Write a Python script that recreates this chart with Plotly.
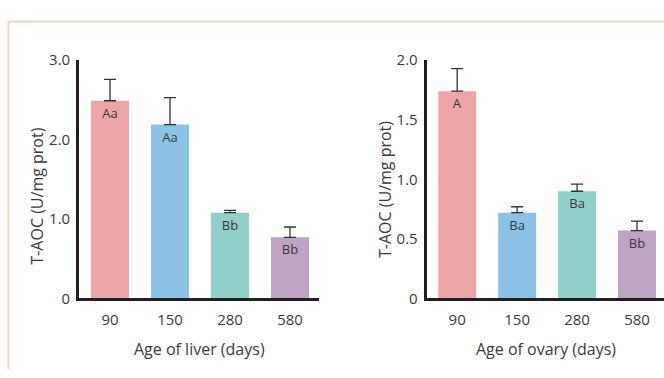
import plotly.graph_objects as go

categories = ["90", "150", "280", "580"]
liver_values = [2.49, 2.19, 1.08, 0.77]
liver_err = [0.27, 0.34, 0.03, 0.13]
liver_labels = ["Aa", "Aa", "Bb", "Bb"]
ovary_values = [1.74, 0.72, 0.90, 0.57]
ovary_err = [0.19, 0.05, 0.06, 0.08]
ovary_labels = ["A", "Ba", "Ba", "Bb"]
bar_colors = ["#EDA5A8", "#8CC2E6", "#91CFCA", "#BEA3C3"]

FONT = "Open Sans, sans-serif"
TXT = "#3a3a3a"
W, H = 664, 378

fig = go.Figure()

def add_panel(values, err, labels, xa, ya):
    fig.add_trace(go.Bar(
        x=categories, y=values, width=0.633,
        marker=dict(color=bar_colors, line=dict(width=0)),
        error_y=dict(type="data", array=err, arrayminus=[0] * len(err),
                     symmetric=False, color="#333333", thickness=1.3, width=6),
        text=labels, textposition="inside", insidetextanchor="end",
        textangle=0, constraintext="none",
        textfont=dict(family=FONT, size=13, color=TXT),
        xaxis=xa, yaxis=ya, showlegend=False, hoverinfo="skip",
    ))

add_panel(liver_values, liver_err, liver_labels, "x", "y")
add_panel(ovary_values, ovary_err, ovary_labels, "x2", "y2")

ydom = [1 - 303.5 / H, 1 - 52 / H]
axis_common = dict(showline=True, linewidth=2.6, linecolor="#231F20",
                   showgrid=False, zeroline=False, ticks="",
                   tickfont=dict(family=FONT, size=15, color=TXT))

def px(x):
    return x / W

def py(y):
    return 1 - y / H

title_font = dict(family=FONT, size=16, color=TXT)
annotations = [
    dict(text="Age of liver (days)", x=px(199), y=py(357), xref="paper", yref="paper",
         showarrow=False, font=title_font, xanchor="center", yanchor="middle"),
    dict(text="Age of ovary (days)", x=px(546), y=py(357), xref="paper", yref="paper",
         showarrow=False, font=title_font, xanchor="center", yanchor="middle"),
    dict(text="T-AOC (U/mg prot)", x=px(37), y=py(196), xref="paper", yref="paper",
         showarrow=False, font=title_font, textangle=-90,
         xanchor="center", yanchor="middle"),
    dict(text="T-AOC (U/mg prot)", x=px(385), y=py(189), xref="paper", yref="paper",
         showarrow=False, font=title_font, textangle=-90,
         xanchor="center", yanchor="middle"),
]

fig.update_layout(
    width=W, height=H,
    margin=dict(l=0, r=0, t=0, b=0),
    paper_bgcolor="white", plot_bgcolor="white",
    xaxis=dict(domain=[px(79), px(319)], range=[-0.517, 3.483],
               ticklabelstandoff=6, **axis_common),
    yaxis=dict(domain=ydom, range=[0, 3.0], tickvals=[0, 1, 2, 3],
               ticktext=["0", "1.0", "2.0", "3.0"],
               ticklabelstandoff=3, **axis_common),
    xaxis2=dict(domain=[px(426.5), 1.0], range=[-0.512, 3.45], anchor="y2",
                ticklabelstandoff=6, **axis_common),
    yaxis2=dict(domain=ydom, range=[0, 2.0], anchor="x2",
                tickvals=[0, 0.5, 1.0, 1.5, 2.0],
                ticktext=["0", "0.5", "1.0", "1.5", "2.0"],
                ticklabelstandoff=3, **axis_common),
    annotations=annotations,
    shapes=[
        dict(type="line", xref="paper", yref="paper", x0=px(8.5), x1=1.0,
             y0=py(11), y1=py(11), line=dict(color="#F6D3C2", width=2)),
        dict(type="line", xref="paper", yref="paper", x0=px(8.5), x1=px(8.5),
             y0=0, y1=py(11), line=dict(color="#F6D3C2", width=2)),
    ],
)

fig.write_html("out.html", post_script="document.body.style.margin='0';",
               config={"displayModeBar": False})
